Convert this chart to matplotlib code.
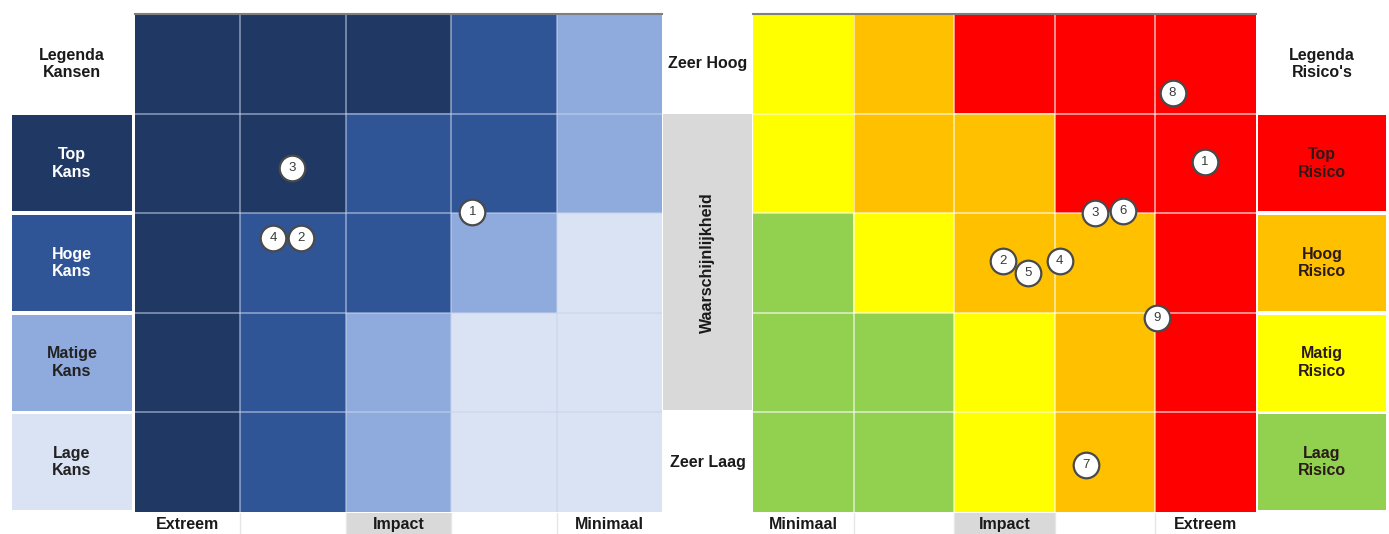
import matplotlib
matplotlib.use("Agg")
import matplotlib.pyplot as plt
from matplotlib.colors import ListedColormap
import numpy as np

plt.rcParams['font.family'] = ['Liberation Sans', 'DejaVu Sans']
plt.rcParams['font.weight'] = 'bold'

W, H = 1389, 534

# ---------------- data ----------------
# Kansen (opportunities) matrix: level per cell, rows top->bottom, cols Extreem->Minimaal
kans_colors = ['#DAE3F3', '#8FAADC', '#2F5597', '#203864']
kans_levels = [
    [3, 3, 3, 2, 1],
    [3, 3, 2, 2, 1],
    [3, 2, 2, 1, 0],
    [3, 2, 1, 0, 0],
    [3, 2, 1, 0, 0],
]
kans_legend = ['Top\nKans', 'Hoge\nKans', 'Matige\nKans', 'Lage\nKans']
kans_legend_level = [3, 2, 1, 0]
kans_legend_textcolor = ['white', 'white', '#222222', '#222222']
kans_ids = ['3', '4', '2', '1']
kans_impact = [1.49, 1.31, 1.575, 3.20]        # column units from left
kans_prob = [1.55, 2.25, 2.25, 1.99]           # row units from top
kans_xlabels = ['Extreem', '', 'Impact', '', 'Minimaal']

# Risico matrix: rows top (Zeer Hoog) -> bottom (Zeer Laag), cols Minimaal->Extreem
risk_colors = ['#92D050', '#FFFF00', '#FFC000', '#FF0000']
risk_levels = [
    [1, 2, 3, 3, 3],
    [1, 2, 2, 3, 3],
    [0, 1, 2, 2, 3],
    [0, 0, 1, 2, 3],
    [0, 0, 1, 2, 3],
]
risk_legend = ['Top\nRisico', 'Hoog\nRisico', 'Matig\nRisico', 'Laag\nRisico']
risk_legend_level = [3, 2, 1, 0]
risk_ids = ['8', '1', '3', '6', '2', '5', '4', '9', '7']
risk_impact = [4.17, 4.49, 3.40, 3.68, 2.49, 2.73, 3.05, 4.02, 3.31]
risk_prob = [0.79, 1.49, 2.00, 1.98, 2.48, 2.60, 2.48, 3.05, 4.53]
risk_xlabels = ['Minimaal', '', 'Impact', '', 'Extreem']

prob_labels = ['Zeer Hoog', 'Zeer Laag']
prob_title = 'Waarschijnlijkheid'

# ---------------- layout helpers ----------------
fig = plt.figure(figsize=(W / 100, H / 100), dpi=100)
fig.patch.set_facecolor('white')


def add_ax(x0, y0, x1, y1):
    ax = fig.add_axes([x0 / W, 1 - y1 / H, (x1 - x0) / W, (y1 - y0) / H])
    ax.set_axis_off()
    return ax


TXT = '#1a1a1a'


def grid(ax, levels, colors, line_color, line_alpha):
    cmap = ListedColormap(colors)
    ax.imshow(np.array(levels), cmap=cmap, vmin=-0.5, vmax=len(colors) - 0.5,
              extent=(0, 5, 5, 0), interpolation='nearest', aspect='auto')
    for k in range(1, 5):
        ax.axvline(k, color=line_color, alpha=line_alpha, lw=1.3)
        ax.axhline(k, color=line_color, alpha=line_alpha, lw=1.3)
    ax.axhline(0, color='#7f7f7f', lw=1.5, clip_on=False)
    ax.set_xlim(0, 5)
    ax.set_ylim(5, 0)


def markers(ax, xs, ys, ids):
    ax.scatter(xs, ys, s=340, facecolor='white', edgecolor='#4a4a4a',
               linewidths=1.6, zorder=5)
    for x, y, t in zip(xs, ys, ids):
        ax.text(x, y, t, ha='center', va='center', fontsize=9.5,
                fontweight='normal', color='#3a3a3a', zorder=6)


def xlabels(ax, labels):
    bg = ['#D9D9D9' if l == 'Impact' else 'white' for l in labels]
    ax.bar(range(5), [1] * 5, width=1.0, color=bg, align='edge')
    for k in range(1, 5):
        ax.axvline(k, color='#e6e6e6', lw=1)
    for i, l in enumerate(labels):
        ax.text(i + 0.5, 0.45, l, ha='center', va='center', fontsize=11.5,
                color=TXT)
    ax.set_xlim(0, 5)
    ax.set_ylim(0, 1)


def legend(ax, title, labels, lv, colors, tcolors):
    ax.barh([1.5 + i for i in range(4)], [1] * 4, height=0.965,
            color=[colors[v] for v in lv])
    ax.text(0.5, 0.5, title, ha='center', va='center', fontsize=11.5,
            color=TXT, linespacing=1.2)
    for i, (l, c) in enumerate(zip(labels, tcolors)):
        ax.text(0.5, 1.5 + i, l, ha='center', va='center', fontsize=11.5,
                color=c, linespacing=1.2)
    ax.set_xlim(0, 1)
    ax.set_ylim(5, 0)


# ---------------- left: kansen ----------------
axL = add_ax(135, 14, 662, 512)
grid(axL, kans_levels, kans_colors, '#c8d4ec', 0.55)
markers(axL, kans_impact, kans_prob, kans_ids)

axLb = add_ax(135, 513, 662, 534)
xlabels(axLb, kans_xlabels)

axLl = add_ax(12, 14, 132, 512)
legend(axLl, 'Legenda\nKansen', kans_legend, kans_legend_level, kans_colors,
       kans_legend_textcolor)

# ---------------- middle: probability axis ----------------
axM = add_ax(663, 14, 752, 512)
axM.barh([2.49], [1], height=2.97, color='#D9D9D9')
axM.text(0.5, 0.5, prob_labels[0], ha='center', va='center', fontsize=11.5,
         color=TXT)
axM.text(0.5, 4.5, prob_labels[1], ha='center', va='center', fontsize=11.5,
         color=TXT)
axM.text(0.5, 2.5, prob_title, ha='center', va='center', fontsize=11.5,
         color=TXT, rotation=90)
axM.set_xlim(0, 1)
axM.set_ylim(5, 0)

# ---------------- right: risico ----------------
axR = add_ax(753, 14, 1256, 512)
grid(axR, risk_levels, risk_colors, 'white', 0.6)
markers(axR, risk_impact, risk_prob, risk_ids)

axRb = add_ax(753, 513, 1256, 534)
xlabels(axRb, risk_xlabels)

axRl = add_ax(1258, 14, 1386, 512)
legend(axRl, "Legenda\nRisico's", risk_legend, risk_legend_level, risk_colors,
       ['#2a1a1a'] * 4)

fig.savefig('out.png', dpi=100, facecolor='white')
